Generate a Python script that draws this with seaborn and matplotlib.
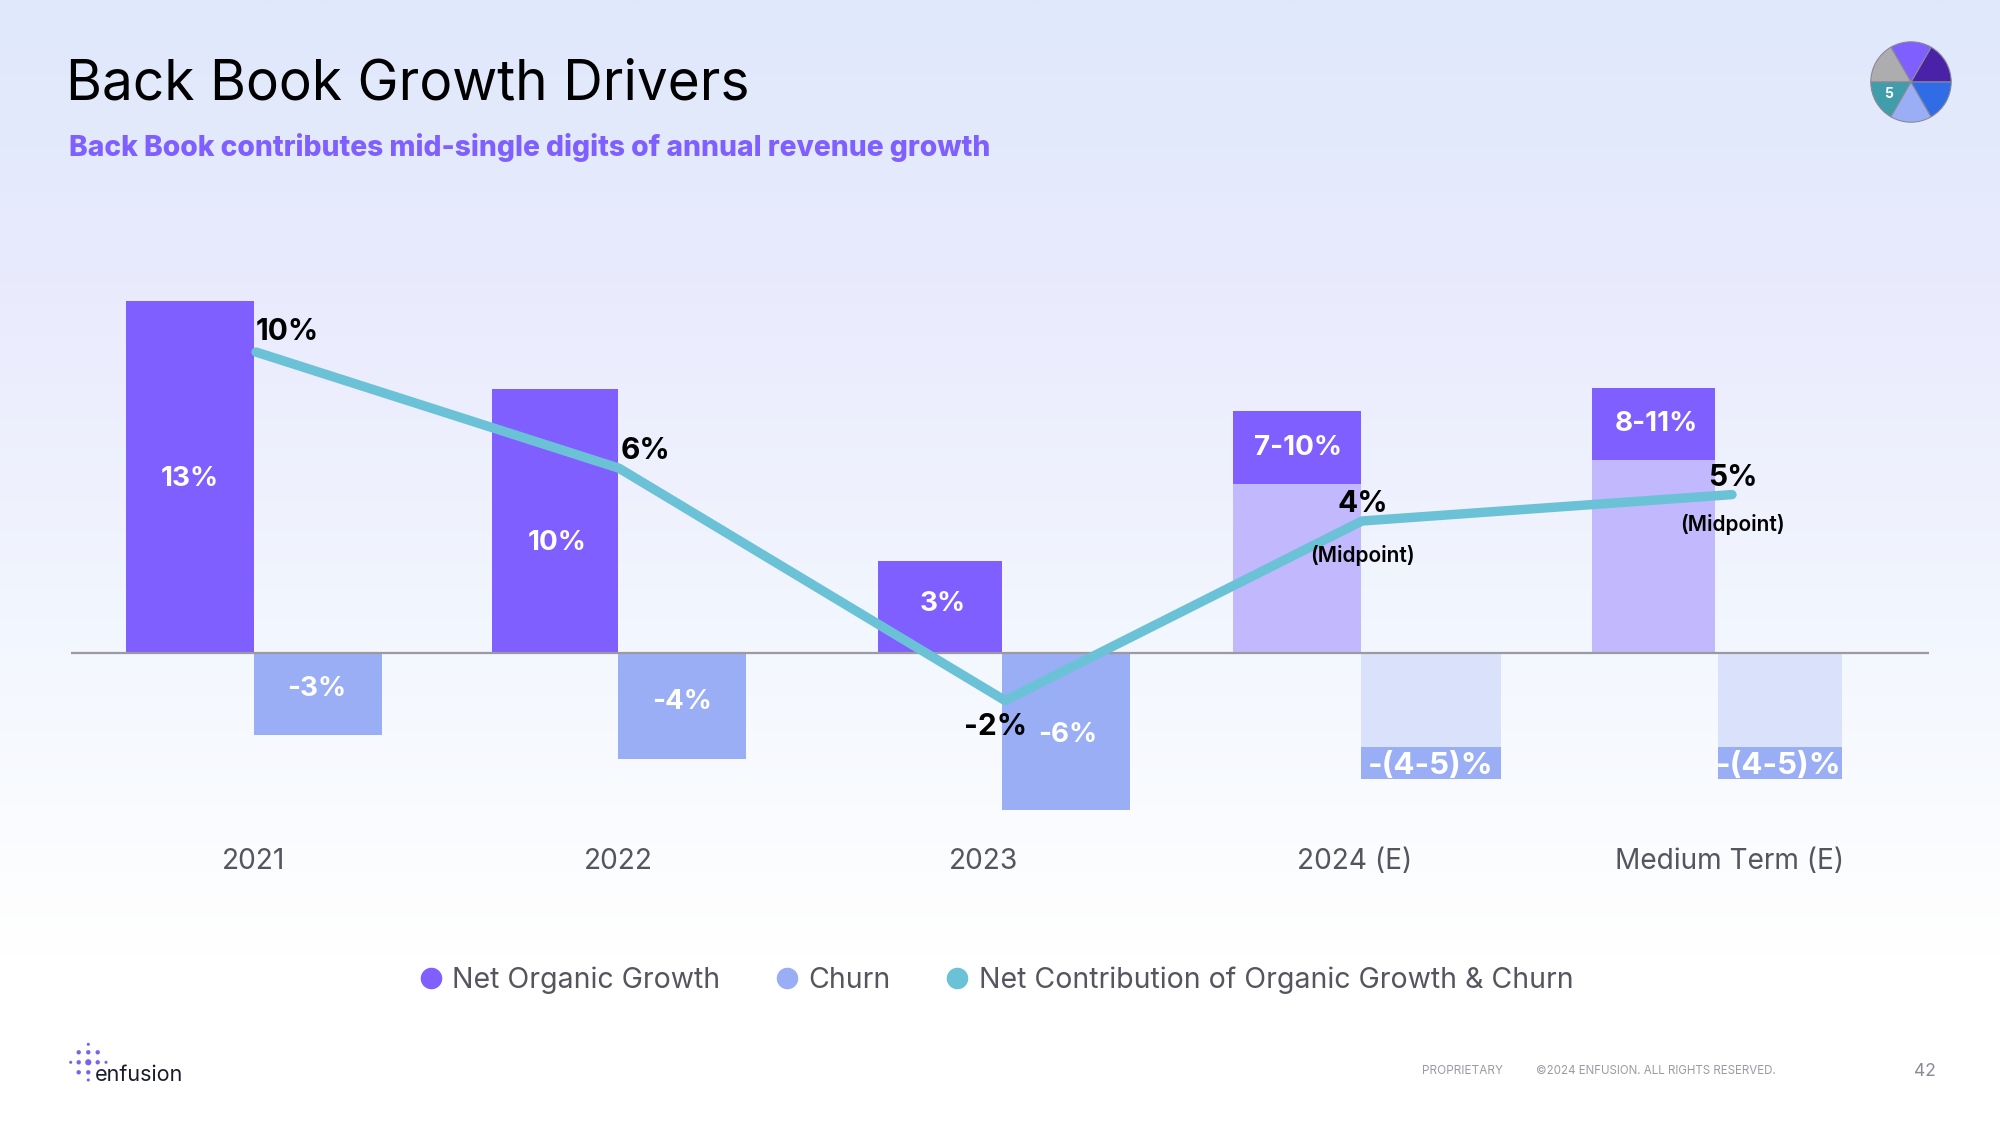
import numpy as np
import seaborn as sns
import matplotlib.pyplot as plt
from matplotlib.colors import LinearSegmentedColormap
from matplotlib.lines import Line2D

categories = ["2021", "2022", "2023", "2024 (E)", "Medium Term (E)"]

# bar heights (% points, slide is not strictly to scale)
organic = [13.35, 10.0, 3.5, 9.15, 10.05]
organic_range_low = [6.4, 7.3]
churn = [-3.1, -4.0, -5.95, -4.77, -4.77]
churn_range_low = [-3.56, -3.56]
net_contribution = [11.4, 7.0, -1.8, 5.0, 6.0]

organic_labels = ["13%", "10%", "3%", "7-10%", "8-11%"]
churn_labels = ["-3%", "-4%", "-6%", "-(4-5)%", "-(4-5)%"]
net_labels = ["10%", "6%", "-2%", "4%", "5%"]

PURPLE = "#7F5FFF"
PURPLE_LIGHT = "#C2B8FD"
PERI = "#9AAEF5"
PERI_LIGHT = "#D9E1FB"
TEAL = "#6BC2D6"

FONT = "Inter"
W, H = 2000, 1125
BASE_Y = 653
PX_PER_PCT = 26.4

# layout in slide pixels
organic_left = [126, 492, 878, 1233, 1592]
organic_right = [254, 618, 1002, 1361, 1715]
churn_left = [254, 618, 1002, 1361, 1718]
churn_right = [382, 746, 1130, 1501, 1842]
line_x = [256, 619, 1005, 1362, 1732]
tick_x = [254, 618, 984, 1355, 1730]

organic_label_pos = [(190, 479), (557, 543), (943, 604), (1298, 448), (1656, 424)]
churn_label_pos = [(317, 689), (682, 702), (1068, 735), (1431, 766), (1779, 766)]
net_label_pos = [(287, 332), (645, 451), (996, 727), (1363, 504), (1733, 478)]
midpoint_pos = [(1362, 555), (1732, 524)]

sns.set_theme(style="white")
plt.rcParams["font.family"] = [FONT, "DejaVu Sans"]

fig = plt.figure(figsize=(20, 11.25), dpi=100)

# slide background
bg = fig.add_axes([0, 0, 1, 1], zorder=-1)
cmap = LinearSegmentedColormap.from_list(
    "slide",
    [(0, "#E0E8FB"), (0.13, "#E3EAFC"), (0.27, "#EAEBFD"), (0.55, "#F2F6FE"), (0.85, "#FFFFFF"), (1, "#FFFFFF")],
)
bg.imshow(np.linspace(0, 1, 512).reshape(-1, 1), aspect="auto", cmap=cmap, vmin=0, vmax=1)
bg.axis("off")


def px_text(x, y, s, **kw):
    kw.setdefault("ha", "center")
    kw.setdefault("va", "center")
    return fig.text(x / W, 1 - y / H, s, **kw)


def draw_bars(ax, values, left, right, color):
    centers = [(l + r) / 2 for l, r in zip(left, right)]
    n = len(ax.patches)
    sns.barplot(x=centers, y=values, color=color, saturation=1, errorbar=None,
                native_scale=True, ax=ax)
    for patch, l, r in zip(ax.patches[n:], left, right):
        patch.set_x(l)
        patch.set_width(r - l)
        patch.set_linewidth(0)


# chart axes, x in slide pixels
top_px, bottom_px = 280, 815
left_px, right_px = 71, 1929
ax = fig.add_axes([left_px / W, 1 - bottom_px / H, (right_px - left_px) / W, (bottom_px - top_px) / H])
ax.patch.set_visible(False)

draw_bars(ax, organic, organic_left, organic_right, PURPLE)
draw_bars(ax, organic_range_low, organic_left[3:], organic_right[3:], PURPLE_LIGHT)
draw_bars(ax, churn, churn_left, churn_right, PERI)
draw_bars(ax, churn_range_low, churn_left[3:], churn_right[3:], PERI_LIGHT)

ax.axhline(0, color="#9A9AA0", lw=1.6, zorder=3)
sns.lineplot(x=line_x, y=net_contribution, color=TEAL, lw=6.8, sort=False, errorbar=None,
             solid_capstyle="round", solid_joinstyle="round", zorder=4, ax=ax)

ax.set_xlim(left_px, right_px)
ax.set_ylim((BASE_Y - bottom_px) / PX_PER_PCT, (BASE_Y - top_px) / PX_PER_PCT)
ax.set_xticks(tick_x)
ax.set_xticklabels(categories, fontsize=20.2, color="#55555F")
ax.set_yticks([])
ax.set_xlabel("")
ax.set_ylabel("")
ax.tick_params(axis="x", length=0, pad=24)
sns.despine(ax=ax, left=True, bottom=True)

for (x, y), s in zip(organic_label_pos, organic_labels):
    px_text(x, y, s, color="white", fontsize=20, fontweight="bold")
for (x, y), s in zip(churn_label_pos, churn_labels):
    px_text(x, y, s, color="white", fontsize=22.5 if "(" in s else 20, fontweight="bold")
for (x, y), s in zip(net_label_pos, net_labels):
    px_text(x, y, s, color="black", fontsize=21.5, fontweight="bold")
for x, y in midpoint_pos:
    px_text(x, y, "(Midpoint)", color="black", fontsize=15, fontweight="semibold")

handles = [
    Line2D([], [], ls="", marker="o", ms=14.5, color=PURPLE, label="Net Organic Growth"),
    Line2D([], [], ls="", marker="o", ms=14.5, color=PERI, label="Churn"),
    Line2D([], [], ls="", marker="o", ms=14.5, color=TEAL, label="Net Contribution of Organic Growth & Churn"),
]
fig.legend(handles=handles, loc="center", bbox_to_anchor=(997 / W, 1 - 980 / H), ncol=3, frameon=False,
           fontsize=20.5, labelcolor="#55555F", handlelength=0.7, handletextpad=0.4, columnspacing=2.0)

# header
px_text(66, 85, "Back Book Growth Drivers", ha="left", color="#000000", fontsize=39.6)
px_text(69, 147, "Back Book contributes mid-single digits of annual revenue growth", ha="left",
        color=PURPLE, fontsize=20.3, fontweight="heavy")

# section wheel, top right
wheel = fig.add_axes([(1911 - 41) / W, 1 - (82 + 41) / H, 82 / W, 82 / H])
wheel.pie([1] * 6, colors=["#4A22A8", PURPLE, "#ADADB0", "#3F9EAA", PERI, "#2F6CE5"], startangle=0,
          radius=1, wedgeprops=dict(lw=0.8, edgecolor="#8A8A96"))
wheel.set_xlim(-1.02, 1.02)
wheel.set_ylim(-1.02, 1.02)
px_text(1889, 94, "5", color="white", fontsize=10, fontweight="bold")

# footer logo
logo = fig.add_axes([0, 0, 1, 1], zorder=2)
logo.set_xlim(0, W)
logo.set_ylim(H, 0)
logo.axis("off")
dot_x = [88.3, 78.7, 88.3, 97.7, 70.7, 78.7, 88.3, 97.7, 106, 78.7, 88.3, 88.3]
dot_y = [1044.3, 1052.3, 1052.3, 1052.3, 1062.3, 1062.3, 1062.3, 1062.3, 1062.3, 1072.3, 1072.3, 1080]
dot_s = [5, 10, 10, 10, 5, 10, 20, 10, 5, 10, 10, 5]
logo.scatter(dot_x, dot_y, s=dot_s, color="#7B62E8", linewidths=0)
px_text(95, 1075, "enfusion", ha="left", color="#1B1B2E", fontsize=15.5)

# footer text
px_text(1422, 1071, "PROPRIETARY", ha="left", color="#9A9AA5", fontsize=8.5)
px_text(1536, 1071, "©2024 ENFUSION. ALL RIGHTS RESERVED.", ha="left", color="#9A9AA5", fontsize=8.3)
px_text(1914, 1072, "42", ha="left", color="#8A8A95", fontsize=12.5)

fig.savefig("out.png", dpi=100)
